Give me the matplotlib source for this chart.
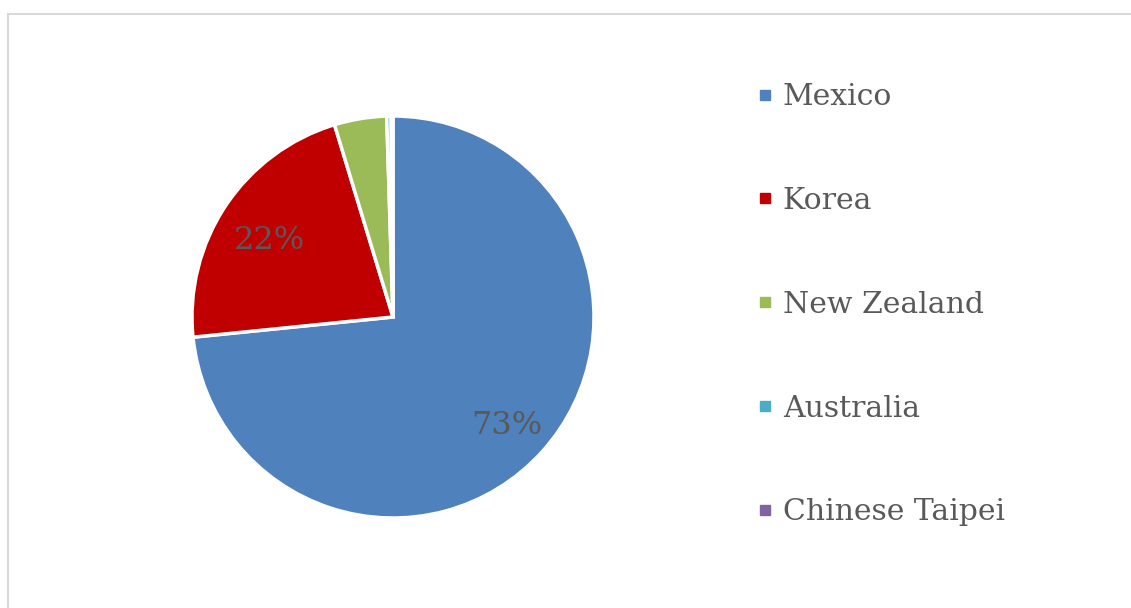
import numpy as np
import matplotlib.pyplot as plt
from matplotlib.lines import Line2D
from matplotlib.patches import Rectangle

countries = ["Mexico", "Korea", "New Zealand", "Australia", "Chinese Taipei"]
shares = [73.4, 21.9, 4.2, 0.35, 0.15]
colors = ["#4f81bd", "#c00000", "#9bbb59", "#4bacc6", "#8064a2"]
shown = ["73%", "22%", "", "", ""]

txt = "#595959"
plt.rcParams['font.family'] = ['DejaVu Serif']

fig = plt.figure(figsize=(11.31, 6.08), dpi=100)
W, H = 1131, 608

# chart frame
fig.patches.append(Rectangle((8 / W, -0.1), 1.2, 1 - 14 / H + 0.1, transform=fig.transFigure,
                             fill=False, edgecolor="#d9d9d9", linewidth=1.5))

# pie centre (393, 317) radius 201 px
ax = fig.add_axes([192 / W, (608 - 518) / H, 402 / W, 402 / H])
wedges, _ = ax.pie(shares, colors=colors, startangle=90, counterclock=False,
                   wedgeprops=dict(edgecolor="white", linewidth=2.5))
for w, lab in zip(wedges, shown):
    ang = np.deg2rad((w.theta1 + w.theta2) / 2)
    if lab:
        ax.text(0.75 * np.cos(ang) + 0.01, 0.75 * np.sin(ang) - 0.035, lab, ha="center",
                va="center", fontsize=23, color=txt)
ax.set_xlim(-1, 1)
ax.set_ylim(-1, 1)
ax.axis("off")

handles = [Line2D([], [], linestyle="none", marker="s", markersize=7.5, markerfacecolor=c,
                  markeredgecolor=c) for c in colors]
leg = fig.legend(handles, countries, loc="upper left", bbox_to_anchor=(756 / W, 1 - 83 / H),
                 frameon=False, fontsize=21.5, labelcolor=txt, handlelength=0.6,
                 handletextpad=0.3, labelspacing=2.54, borderaxespad=0, borderpad=0)

fig.savefig("out.png", dpi=100)
